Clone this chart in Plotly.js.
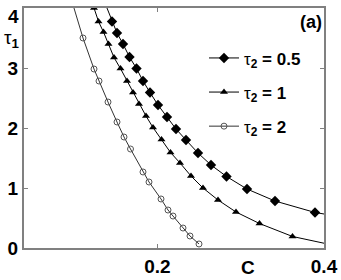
<!DOCTYPE html>
<html><head><meta charset="utf-8">
<script src="https://cdn.plot.ly/plotly-3.0.1.min.js"></script>
<style>html,body{margin:0;padding:0;background:#fff}#chart{width:341px;height:280px}</style>
</head><body><div id="chart"></div>
<script>
// tau2 = 0.5 (diamonds)
const cHalf   = [0.1367, 0.1456, 0.1516, 0.1588, 0.1666, 0.175, 0.1828, 0.1912, 0.2008, 0.2116, 0.2224, 0.2344, 0.2488, 0.2644, 0.283, 0.3076, 0.3412, 0.3892, 0.42];
const tauHalf = [4.1, 3.775, 3.583, 3.4, 3.183, 2.992, 2.783, 2.592, 2.383, 2.183, 1.983, 1.8, 1.583, 1.383, 1.192, 0.983, 0.783, 0.592, 0.52];
// tau2 = 1 (triangles)
const cOne    = [0.124, 0.1294, 0.1354, 0.1414, 0.148, 0.1558, 0.1636, 0.1708, 0.178, 0.1864, 0.1948, 0.205, 0.2158, 0.2272, 0.2404, 0.2548, 0.2728, 0.2944, 0.3226, 0.3622, 0.42];
const tauOne  = [4.0, 3.775, 3.6, 3.4, 3.175, 2.99, 2.783, 2.592, 2.4, 2.2, 2.008, 1.808, 1.592, 1.417, 1.2, 1.0, 0.8, 0.6, 0.408, 0.192, 0.02];
// tau2 = 2 (open circles)
const cTwo    = [0.0978, 0.1108, 0.124, 0.130, 0.1408, 0.1516, 0.16, 0.1678, 0.1828, 0.19, 0.2044, 0.2128, 0.2188, 0.2308, 0.2392, 0.25];
const tauTwo  = [4.1, 3.5, 2.983, 2.783, 2.433, 2.1, 1.85, 1.65, 1.267, 1.1, 0.817, 0.633, 0.533, 0.333, 0.2, 0.067];

const names = ['τ<sub><b>2</b></sub><b> = 0.5</b>', 'τ<sub><b>2</b></sub><b> = 1</b>', 'τ<sub><b>2</b></sub><b> = 2</b>'];
const xTicks = [0.2, 0.4];
const xTickText = ['0.2', '0.4'];
const yTicks = [0, 1, 2, 3, 4];
const yTickText = ['0', '1', '2', '3', ''];   // top label "4" is drawn just below the edge as in the reference
const yTopLabel = '4';

const FONT = '"Liberation Sans", Arial, sans-serif';

const traces = [
  {x: cHalf, y: tauHalf, name: names[0], legendgroup: 'a', mode: 'lines+markers',
   line: {color: '#000', width: 1}, marker: {symbol: 'diamond', size: 8, color: '#000'}},
  {x: cOne, y: tauOne, name: names[1], legendgroup: 'b', mode: 'lines+markers',
   line: {color: '#000', width: 1}, marker: {symbol: 'triangle-up', size: 7, color: '#000'}},
  {x: cTwo, y: tauTwo, name: names[2], legendgroup: 'c', mode: 'lines+markers',
   line: {color: '#333', width: 1}, marker: {symbol: 'circle-open', size: 6, color: '#555', line: {width: 1}}}
];

const axisCommon = {
  showline: true, linecolor: '#808080', linewidth: 2, mirror: 'ticks',
  ticks: 'inside', ticklen: 4, tickwidth: 1, tickcolor: '#808080',
  showgrid: false, zeroline: false, ticklabeloverflow: 'allow',
  tickfont: {family: FONT, size: 19, color: '#000', weight: 'bold'}
};

const layout = {
  width: 341, height: 280,
  margin: {l: 24, r: 17, t: 8, b: 32},
  paper_bgcolor: '#fff', plot_bgcolor: '#fff',
  showlegend: true,
  xaxis: Object.assign({}, axisCommon, {range: [0.04, 0.4], tickvals: xTicks, ticktext: xTickText, ticklabelstandoff: 0}),
  yaxis: Object.assign({}, axisCommon, {range: [0, 4], tickvals: yTicks, ticktext: yTickText, ticklabelstandoff: 0}),
  legend: {x: 0.60, y: 0.865, xanchor: 'left', yanchor: 'top', bgcolor: 'rgba(0,0,0,0)',
           font: {family: FONT, size: 17, color: '#000'}, traceorder: 'grouped', tracegroupgap: 9},
  annotations: [
    {text: '<b>' + yTopLabel + '</b>', xref: 'paper', yref: 'paper', x: -0.012, y: 1.0, xanchor: 'right', yanchor: 'top',
     yshift: 3, borderpad: 0, showarrow: false, font: {family: FONT, size: 19, color: '#000'}},
    {text: '<b>(a)</b>', xref: 'paper', yref: 'paper', x: 1.0, y: 0.94, xanchor: 'right', yanchor: 'middle',
     showarrow: false, font: {family: FONT, size: 18, color: '#000'}},
    {text: '<b>C</b>', xref: 'paper', yref: 'paper', x: 0.748, y: -0.081, xanchor: 'center', yanchor: 'middle',
     showarrow: false, font: {family: FONT, size: 19, color: '#000'}},
    {text: 'τ<sub><b>1</b></sub>', xref: 'paper', yref: 'paper', x: -0.04, y: 0.872, xanchor: 'center', yanchor: 'middle',
     borderpad: 0, showarrow: false, font: {family: FONT, size: 19, color: '#000'}}
  ]
};

Plotly.newPlot('chart', traces, layout, {displayModeBar: false, staticPlot: true});
</script></body></html>
